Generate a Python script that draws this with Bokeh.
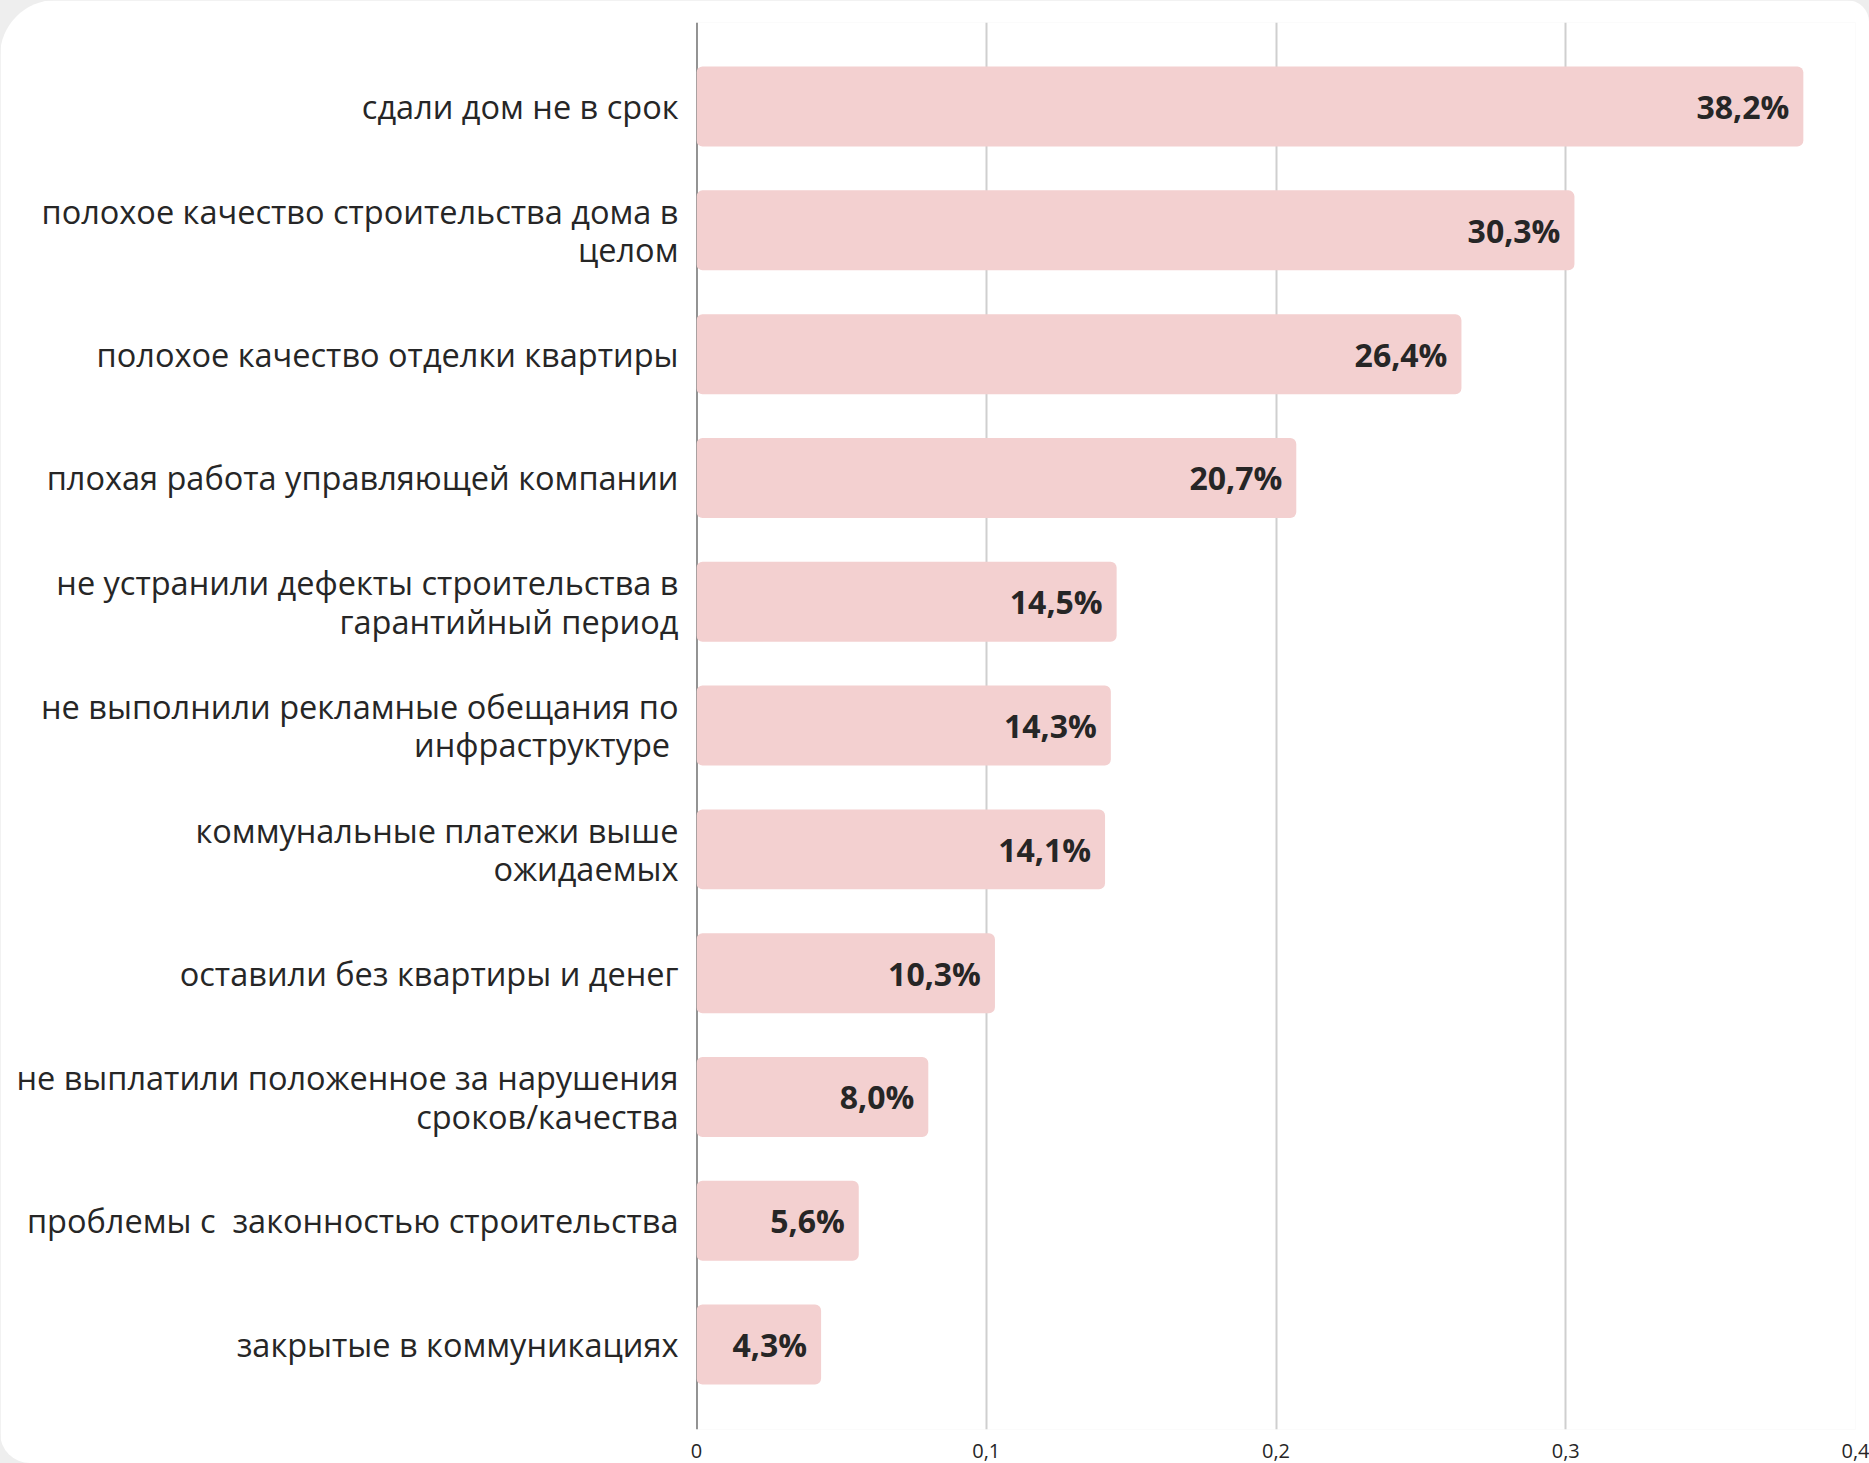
from bokeh.plotting import figure
from bokeh.layouts import column
from bokeh.models import Range1d, FixedTicker, Span, ColumnDataSource
from bokeh.embed import file_html
from bokeh.resources import INLINE
from bokeh.core.properties import value

categories = [
    "сдали дом не в срок",
    "полохое качество строительства дома в\nцелом",
    "полохое качество отделки квартиры",
    "плохая работа управляющей компании",
    "не устранили дефекты строительства в\nгарантийный период",
    "не выполнили рекламные обещания по\nинфраструктуре ",
    "коммунальные платежи выше\nожидаемых",
    "оставили без квартиры и денег",
    "не выплатили положенное за нарушения\nсроков/качества",
    "проблемы с\u00a0 законностью строительства",
    "закрытые в коммуникациях",
]
values = [0.382, 0.303, 0.264, 0.207, 0.145, 0.143, 0.141, 0.103, 0.080, 0.056, 0.043]
value_labels = ["38,2%", "30,3%", "26,4%", "20,7%", "14,5%", "14,3%", "14,1%", "10,3%", "8,0%", "5,6%", "4,3%"]
x_ticks = [0, 0.1, 0.2, 0.3, 0.4]
x_tick_labels = ["0", "0,1", "0,2", "0,3", "0,4"]

positions = list(range(len(categories)))
src = ColumnDataSource(dict(y=positions, v=values, lab=value_labels))

FONT = "Open Sans"
TXT = "#262626"
W, H = 1869, 1463

p = figure(width=W, height=H, output_backend="svg", toolbar_location=None,
           x_range=Range1d(0, 0.4), y_range=Range1d(10.686, -0.679),
           min_border_left=696, min_border_right=14, min_border_top=22, min_border_bottom=34)
p.outline_line_color = None
p.background_fill_color = "white"
p.border_fill_color = "white"
# rounded white card on a light grey page
p.styles = {
    "border-top-left-radius": "56px",
    "border-bottom-left-radius": "30px",
    "border-top-right-radius": "22px",
    "border-bottom-right-radius": "0px",
    "overflow": "hidden",
}

# grid
p.xgrid.ticker = FixedTicker(ticks=x_ticks)
p.xgrid.grid_line_color = "#cfcfcf"
p.xgrid.grid_line_width = 2
p.ygrid.grid_line_color = None

zero_line = Span(location=0, dimension="height", line_color="#2b2b2b", line_width=2, level="underlay")
p.add_layout(zero_line)

p.hbar(y="y", right="v", left=0, height=0.646, source=src,
       fill_color="#f3d0d0", line_color=None, border_radius=6)

p.text(x="v", y="y", text="lab", source=src, x_offset=-14,
       text_align="right", text_baseline="middle",
       text_font=value(FONT), text_font_size="32px", text_font_style="bold",
       text_color=TXT)

# x axis
xa = p.xaxis[0]
xa.ticker = FixedTicker(ticks=x_ticks)
xa.major_label_overrides = {t: l for t, l in zip(x_ticks, x_tick_labels)}
xa.axis_line_color = None
xa.major_tick_line_color = None
xa.minor_tick_line_color = None
xa.major_label_standoff = 8
xa.major_label_text_font = FONT
xa.major_label_text_font_size = "20px"
xa.major_label_text_color = TXT

# y axis
ya = p.yaxis[0]
ya.ticker = FixedTicker(ticks=positions)
ya.major_label_overrides = {i: c for i, c in zip(positions, categories)}
ya.axis_line_color = None
ya.major_tick_line_color = None
ya.minor_tick_line_color = None
ya.major_label_standoff = 12
ya.major_label_text_font = FONT
ya.major_label_text_font_size = "32.5px"
ya.major_label_text_line_height = 0.86
ya.major_label_text_color = TXT

page = column(p, width=W, height=H, sizing_mode="fixed",
              styles={"background-color": "#eeeeee", "width": f"{W}px", "height": f"{H}px"})
open("out.html", "w").write(file_html(page, INLINE))
